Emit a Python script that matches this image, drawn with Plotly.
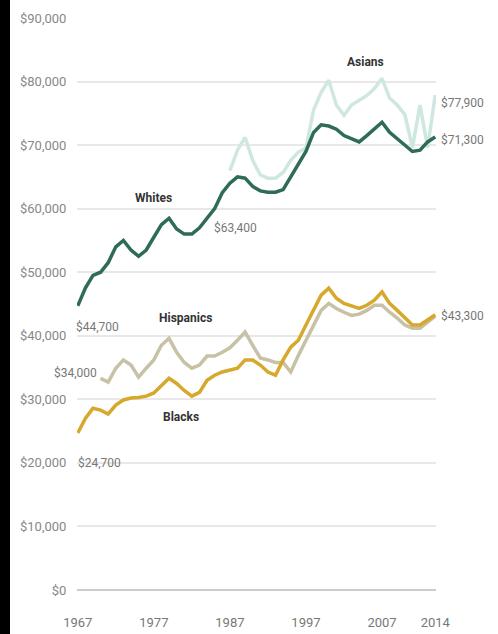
import plotly.graph_objects as go

years_all = list(range(1967, 2015))

whites = [44.7, 47.5, 49.5, 50.0, 51.5, 54.0, 55.0, 53.5, 52.5, 53.5,
          55.5, 57.5, 58.5, 56.8, 56.0, 56.0, 57.0, 58.5, 60.0, 62.5,
          64.0, 65.0, 64.8, 63.5, 62.8, 62.6, 62.6, 63.0, 65.0, 67.0,
          69.0, 72.0, 73.2, 73.0, 72.5, 71.5, 71.0, 70.5, 71.5, 72.5,
          73.6, 72.0, 71.0, 70.0, 69.0, 69.2, 70.5, 71.3]

blacks = [24.7, 27.0, 28.6, 28.3, 27.7, 29.1, 29.9, 30.2, 30.3, 30.5,
          31.0, 32.2, 33.3, 32.5, 31.4, 30.5, 31.1, 33.0, 33.8, 34.3,
          34.6, 34.9, 36.2, 36.2, 35.4, 34.3, 33.8, 36.2, 38.2, 39.3,
          41.7, 44.0, 46.4, 47.5, 45.9, 45.1, 44.7, 44.3, 44.8, 45.6,
          46.9, 45.1, 44.0, 42.8, 41.7, 41.7, 42.5, 43.3]

years_hisp = list(range(1970, 2015))
hispanics = [33.3, 32.7, 34.9, 36.2, 35.4, 33.5, 34.9, 36.2, 38.5, 39.6,
             37.4, 35.8, 34.9, 35.4, 36.8, 36.8, 37.4, 38.1, 39.3, 40.6,
             38.5, 36.5, 36.2, 35.8, 35.8, 34.3, 36.9, 39.3, 41.7, 44.0,
             45.1, 44.3, 43.7, 43.2, 43.4, 44.0, 44.8, 44.8, 43.7, 42.8,
             41.7, 41.2, 41.2, 42.1, 43.1]

years_asian = list(range(1987, 2015))
asians = [66.0, 69.2, 71.2, 67.6, 65.3, 64.8, 64.8, 65.7, 67.6, 68.9,
          69.5, 75.5, 78.3, 80.2, 76.3, 74.7, 76.3, 77.0, 77.8, 78.9,
          80.5, 77.4, 76.3, 74.8, 69.6, 76.3, 69.6, 77.9]

tick_years = [1967, 1977, 1987, 1997, 2007, 2014]
tick_labels = ["1967", "1977", "1987", "1997", "2007", "2014"]
y_ticks = [0, 10000, 20000, 30000, 40000, 50000, 60000, 70000, 80000, 90000]
y_labels = ["$0", "$10,000", "$20,000", "$30,000", "$40,000", "$50,000",
            "$60,000", "$70,000", "$80,000", "$90,000"]

# annotations: (text, x year, y value, anchor, bold, xshift, yshift)
labels = [
    ("Asians", 2004.8, 83100, "center", True, 0, 0),
    ("$77,900", 2014, 77900, "left", False, 4, -8),
    ("$71,300", 2014, 71300, "left", False, 4, -3),
    ("Whites", 1976.9, 61700, "center", True, 0, 0),
    ("$63,400", 1987.8, 57000, "center", False, 0, 0),
    ("$44,700", 1969.6, 41400, "center", False, 0, 0),
    ("Hispanics", 1981.1, 42800, "center", True, 0, 0),
    ("$34,000", 1970, 33300, "right", False, -2, 5),
    ("$43,300", 2014, 43300, "left", False, 4, -1),
    ("Blacks", 1980.6, 27200, "center", True, 0, 0),
    ("$24,700", 1969.8, 20000, "center", False, 0, 0),
]

FONT = "Roboto, Liberation Sans, sans-serif"

fig = go.Figure()

def k(vals):
    return [v * 1000 for v in vals]

fig.add_trace(go.Scatter(x=years_asian, y=k(asians), mode="lines",
                         line=dict(color="#cfe8df", width=3.5), name="Asians"))
fig.add_trace(go.Scatter(x=years_all, y=k(whites), mode="lines",
                         line=dict(color="#2e6b58", width=3.5), name="Whites"))
fig.add_trace(go.Scatter(x=years_hisp, y=k(hispanics), mode="lines",
                         line=dict(color="#c7c1a6", width=3.5), name="Hispanics"))
fig.add_trace(go.Scatter(x=years_all, y=k(blacks), mode="lines",
                         line=dict(color="#d6a82b", width=3.5), name="Blacks"))

L, R, T, B = 77, 62, 18, 44
W = 498 - L - R

for text, x, y, anchor, bold, xs, ys in labels:
    fig.add_annotation(x=x, y=y, xref="x", yref="y",
                       text=f"<b>{text}</b>" if bold else text, showarrow=False,
                       xanchor=anchor, yanchor="middle", xshift=xs, yshift=ys,
                       font=dict(family=FONT, size=12,
                                 color="#333333" if bold else "#777777"))

fig.add_shape(type="rect", xref="paper", yref="paper",
              x0=(0 - L) / W, x1=(10 - L) / W, y0=-1, y1=2,
              fillcolor="#000000", line=dict(width=0), layer="above")

fig.update_layout(
    width=498, height=634,
    margin=dict(l=L, r=R, t=T, b=B, autoexpand=False),
    paper_bgcolor="white", plot_bgcolor="white",
    showlegend=False,
    font=dict(family=FONT, size=12, color="#888888"),
    xaxis=dict(range=[1966.9, 2014.1], tickvals=tick_years, ticktext=tick_labels,
               showgrid=False, zeroline=False, showline=False, automargin=False,
               ticks="outside", ticklen=20, tickcolor="rgba(0,0,0,0)",
               tickfont=dict(size=13, color="#777777")),
    yaxis=dict(range=[0, 90000], tickvals=y_ticks, ticktext=y_labels,
               showgrid=True, gridcolor="#e8e8e8", gridwidth=2,
               zeroline=True, zerolinecolor="#cccccc", zerolinewidth=2,
               showline=False, ticks="outside", ticklen=7, automargin=False,
               tickcolor="rgba(0,0,0,0)",
               tickfont=dict(size=13, color="#888888")),
)

fig.write_html("out.html", config={"displayModeBar": False},
               post_script="document.body.style.margin='0';")
